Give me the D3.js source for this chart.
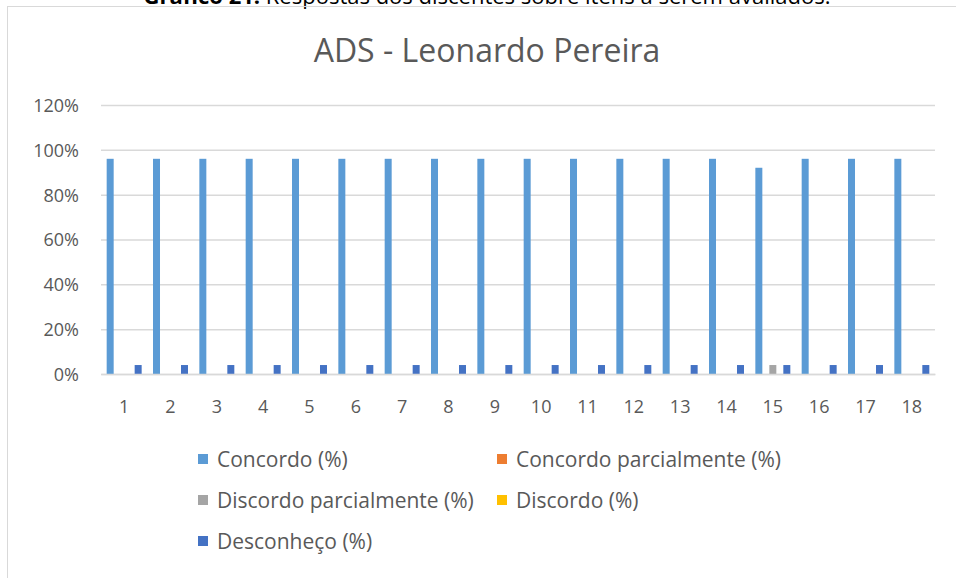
<!DOCTYPE html>
<html>
<head>
<meta charset="utf-8">
<script src="https://cdn.jsdelivr.net/npm/d3@7"></script>
<style>
  body { margin: 0; background: #fff; }
  svg text { font-family: "Open Sans", Lato, sans-serif; }
</style>
</head>
<body>
<div id="plot"></div>
<script>
const CANVAS_WIDTH  = 956;
const CANVAS_HEIGHT = 578;

var categories = ["1","2","3","4","5","6","7","8","9","10","11","12","13","14","15","16","17","18"];
var seriesNames = ["Concordo (%)", "Concordo parcialmente (%)", "Discordo parcialmente (%)", "Discordo (%)", "Desconheço (%)"];
var seriesColors = ["#5B9BD5", "#ED7D31", "#A5A5A5", "#FFC000", "#4472C4"];

var concordo     = [0.96,0.96,0.96,0.96,0.96,0.96,0.96,0.96,0.96,0.96,0.96,0.96,0.96,0.96,0.92,0.96,0.96,0.96];
var concordoParc = [0,0,0,0,0,0,0,0,0,0,0,0,0,0,0,0,0,0];
var discordoParc = [0,0,0,0,0,0,0,0,0,0,0,0,0,0,0.04,0,0,0];
var discordo     = [0,0,0,0,0,0,0,0,0,0,0,0,0,0,0,0,0,0];
var desconheco   = [0.04,0.04,0.04,0.04,0.04,0.04,0.04,0.04,0.04,0.04,0.04,0.04,0.04,0.04,0.04,0.04,0.04,0.04];

var yTicks = [0, 0.2, 0.4, 0.6, 0.8, 1.0, 1.2];

var series = [concordo, concordoParc, discordoParc, discordo, desconheco];

var svg = d3.select("#plot")
            .append("svg")
            .attr("width", CANVAS_WIDTH)
            .attr("height", CANVAS_HEIGHT);

// caption cut off at the top of the picture
svg.append("text")
   .attr("x", 487)
   .attr("y", 4)
   .attr("text-anchor", "middle")
   .style("font-size", "22px")
   .style("fill", "#000")
   .html("<tspan font-weight='bold'>Gráfico 21:</tspan> Respostas dos discentes sobre itens a serem avaliados.");

// chart frame
svg.append("rect")
   .attr("x", 7.5)
   .attr("y", 6.5)
   .attr("width", 1000)
   .attr("height", 600)
   .attr("fill", "none")
   .attr("stroke", "#d9d9d9");

svg.append("text")
   .attr("x", 487)
   .attr("y", 62)
   .attr("text-anchor", "middle")
   .style("font-size", "32px")
   .style("fill", "#595959")
   .text("ADS - Leonardo Pereira");

var x0 = d3.scaleBand()
           .domain(categories)
           .range([101, 935])
           .paddingInner(0.245)
           .paddingOuter(0.1225);

var x1 = d3.scaleBand()
           .domain(d3.range(series.length))
           .range([0, x0.bandwidth()]);

var yScale = d3.scaleLinear()
               .domain([0, 1.2])
               .range([374, 105]);

// gridlines
var yAxis = d3.axisLeft(yScale)
              .tickValues(yTicks)
              .tickSize(-(935 - 101))
              .tickPadding(22)
              .tickFormat(d3.format(".0%"));

var gy = svg.append("g")
            .attr("transform", "translate(101,0)")
            .call(yAxis);
gy.select(".domain").remove();
gy.selectAll(".tick line").attr("stroke", "#d9d9d9").attr("stroke-width", 1.5);
gy.selectAll(".tick text")
  .style("font-size", "18px")
  .style("fill", "#595959")
  .attr("dy", "0.36em");

// bars
series.forEach(function(vals, s) {
    svg.append("g")
       .selectAll("rect")
       .data(vals)
       .enter()
       .append("rect")
       .attr("x", function(d, i) { return x0(categories[i]) + x1(s); })
       .attr("y", function(d) { return yScale(d); })
       .attr("width", x1.bandwidth())
       .attr("height", function(d) { return yScale(0) - yScale(d); })
       .attr("fill", seriesColors[s]);
});

// x axis
var xAxis = d3.axisBottom(x0).tickSize(0).tickPadding(26);
var gx = svg.append("g")
            .attr("transform", "translate(0,374)")
            .call(xAxis);
gx.select(".domain").attr("stroke", "#d9d9d9").attr("stroke-width", 1.5);
gx.selectAll(".tick text")
  .style("font-size", "18px")
  .style("fill", "#595959");

// legend
var legendPos = [[198, 459], [497, 459], [198, 500], [497, 500], [198, 541]];
var legend = svg.append("g")
                .selectAll("g")
                .data(seriesNames)
                .enter()
                .append("g")
                .attr("transform", function(d, i) { return "translate(" + legendPos[i][0] + "," + legendPos[i][1] + ")"; });

legend.append("rect")
      .attr("x", 0)
      .attr("y", -5)
      .attr("width", 10)
      .attr("height", 10)
      .attr("fill", function(d, i) { return seriesColors[i]; });

legend.append("text")
      .attr("x", 19)
      .attr("y", 0)
      .attr("dy", "0.36em")
      .style("font-size", "21px")
      .style("fill", "#595959")
      .text(function(d) { return d; });
</script>
</body>
</html>
